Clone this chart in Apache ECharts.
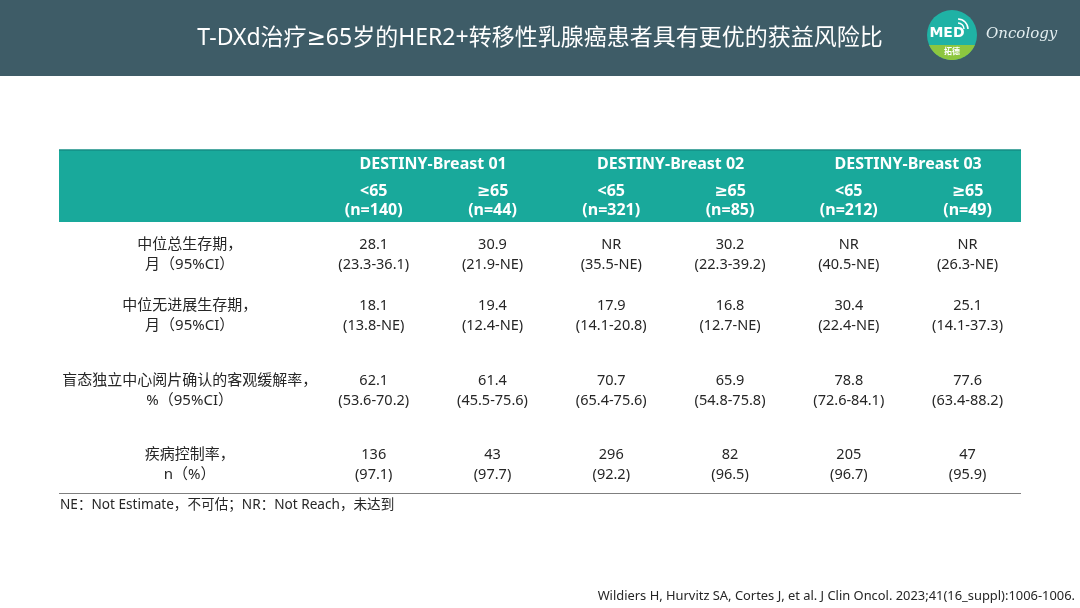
<!DOCTYPE html>
<html>
<head>
<meta charset="utf-8">
<title>T-DXd ≥65岁 HER2+ 转移性乳腺癌</title>
<script src="https://cdn.jsdelivr.net/npm/echarts@6/dist/echarts.min.js"></script>
<style>
  html, body { margin: 0; padding: 0; background: #fff; }
  #main { width: 1080px; height: 608px; }
</style>
</head>
<body>
<div id="main"></div>
<script>
// 表格数据
const trials = ['DESTINY-Breast 01', 'DESTINY-Breast 02', 'DESTINY-Breast 03'];
const ageGroups = ['<65', '≥65'];
const sampleSizes = [140, 44, 321, 85, 212, 49];

const rowLabels = [
  ['中位总生存期，', '月（95%CI）'],
  ['中位无进展生存期，', '月（95%CI）'],
  ['盲态独立中心阅片确认的客观缓解率，', '%（95%CI）'],
  ['疾病控制率，', 'n（%）']
];

const osMedian = ['28.1', '30.9', 'NR', '30.2', 'NR', 'NR'];
const osCI = ['23.3-36.1', '21.9-NE', '35.5-NE', '22.3-39.2', '40.5-NE', '26.3-NE'];
const pfsMedian = ['18.1', '19.4', '17.9', '16.8', '30.4', '25.1'];
const pfsCI = ['13.8-NE', '12.4-NE', '14.1-20.8', '12.7-NE', '22.4-NE', '14.1-37.3'];
const orrValue = ['62.1', '61.4', '70.7', '65.9', '78.8', '77.6'];
const orrCI = ['53.6-70.2', '45.5-75.6', '65.4-75.6', '54.8-75.8', '72.6-84.1', '63.4-88.2'];
const dcrCount = ['136', '43', '296', '82', '205', '47'];
const dcrPct = ['97.1', '97.7', '92.2', '96.5', '96.7', '95.9'];

const title = 'T-DXd治疗≥65岁的HER2+转移性乳腺癌患者具有更优的获益风险比';
const footnote = 'NE：Not Estimate，不可估；NR：Not Reach，未达到';
const citation = 'Wildiers H, Hurvitz SA, Cortes J, et al. J Clin Oncol. 2023;41(16_suppl):1006-1006.';

// 版式（列 = x 轴单位，行 = y 轴单位）
const labelCol = -1.55;
const rowY = { group: 14.5, sub: 51, rows: [105, 166, 240.5, 314.5] };
const FONT = '"Noto Sans", "DejaVu Sans", "Noto Sans CJK SC", sans-serif';

// 组装单元格
const cells = [];
trials.forEach((t, i) => {
  cells.push({ x: i * 2 + 0.5, y: rowY.group, text: t, kind: 'head' });
});
sampleSizes.forEach((n, i) => {
  cells.push({ x: i, y: rowY.sub, text: ageGroups[i % 2] + '\n(n=' + n + ')', kind: 'head' });
});
const rowsData = [
  [osMedian, osCI],
  [pfsMedian, pfsCI],
  [orrValue, orrCI],
  [dcrCount, dcrPct]
];
rowLabels.forEach((lab, r) => {
  cells.push({ x: labelCol, y: rowY.rows[r], text: lab.join('\n'), kind: 'label' });
  rowsData[r][0].forEach((v, c) => {
    cells.push({ x: c, y: rowY.rows[r], text: v + '\n(' + rowsData[r][1][c] + ')', kind: 'body' });
  });
});

const chart = echarts.init(document.getElementById('main'), null, { renderer: 'canvas' });

// 小 logo 的下半弓形
const logoC = [952, 35], logoR = 25;
const segPts = [];
const chordY = 10;
const a0 = Math.asin(chordY / logoR);
for (let k = 0; k <= 30; k++) {
  const a = a0 + (Math.PI - 2 * a0) * k / 30;
  segPts.push([logoC[0] + logoR * Math.cos(a), logoC[1] + logoR * Math.sin(a)]);
}

const fonts = {
  head: 'bold 16px ' + FONT,
  label: '15px ' + FONT,
  body: '14.5px ' + FONT
};

const option = {
  backgroundColor: '#ffffff',
  animation: false,
  grid: { left: 59, right: 59, top: 150, bottom: 115 },
  xAxis: { type: 'value', min: -2.65, max: 5.45, show: false },
  yAxis: { type: 'value', min: 0, max: 343, inverse: true, show: false },
  graphic: [
    { type: 'rect', shape: { x: 0, y: 0, width: 1080, height: 76 }, style: { fill: '#3e5c67' }, z: 0 },
    { type: 'text', x: 540, y: 38, style: { text: title, fill: '#ffffff', font: '23px ' + FONT, textAlign: 'center', textVerticalAlign: 'middle' }, z: 1 },
    { type: 'circle', shape: { cx: logoC[0], cy: logoC[1], r: logoR }, style: { fill: '#1fb2a5' }, z: 1 },
    { type: 'polygon', shape: { points: segPts }, style: { fill: '#8dc63f' }, z: 2 },
    { type: 'text', x: 947, y: 33, style: { text: 'MED', fill: '#ffffff', font: 'bold 14px "DejaVu Sans", sans-serif', textAlign: 'center', textVerticalAlign: 'middle' }, z: 3 },
    { type: 'arc', shape: { cx: 958, cy: 29, r: 6, startAngle: -Math.PI / 2, endAngle: 0 }, style: { stroke: '#ffffff', lineWidth: 1.5, fill: null }, z: 3 },
    { type: 'arc', shape: { cx: 958, cy: 29, r: 10, startAngle: -Math.PI / 2, endAngle: 0 }, style: { stroke: '#ffffff', lineWidth: 1.5, fill: null }, z: 3 },
    { type: 'text', x: 952, y: 51, style: { text: '拓德', fill: '#ffffff', font: 'bold 8px "Noto Sans CJK SC", sans-serif', textAlign: 'center', textVerticalAlign: 'middle' }, z: 3 },
    { type: 'text', x: 986, y: 34, style: { text: 'Oncology', fill: '#e3eef0', font: 'italic 15px "DejaVu Serif", serif', textAlign: 'left', textVerticalAlign: 'middle' }, z: 3 },
    { type: 'rect', shape: { x: 59, y: 150, width: 962, height: 72 }, style: { fill: '#19a99b' }, z: 0 },
    { type: 'line', shape: { x1: 59, y1: 150, x2: 1021, y2: 150 }, style: { stroke: '#148e84', lineWidth: 1.5 }, z: 1 },
    { type: 'line', shape: { x1: 59, y1: 493.5, x2: 1021, y2: 493.5 }, style: { stroke: '#7f7f7f', lineWidth: 1 }, z: 1 },
    { type: 'text', x: 60, y: 505, style: { text: footnote, fill: '#262626', font: '13.6px ' + FONT, textAlign: 'left', textVerticalAlign: 'middle' }, z: 1 },
    { type: 'text', x: 1075, y: 596, style: { text: citation, fill: '#262626', font: '12.9px ' + FONT, textAlign: 'right', textVerticalAlign: 'middle' }, z: 1 }
  ],
  series: [{
    type: 'custom',
    coordinateSystem: 'cartesian2d',
    data: cells.map(c => [c.x, c.y]),
    z: 5,
    renderItem: function (params, api) {
      const cell = cells[params.dataIndex];
      const p = api.coord([api.value(0), api.value(1)]);
      const isHead = cell.kind === 'head';
      return {
        type: 'text',
        x: p[0],
        y: p[1],
        style: {
          text: cell.text,
          fill: isHead ? '#ffffff' : '#262626',
          font: fonts[cell.kind],
          lineHeight: isHead ? 19 : 20,
          textAlign: 'center',
          textVerticalAlign: 'middle'
        }
      };
    }
  }]
};

chart.setOption(option);
</script>
</body>
</html>
